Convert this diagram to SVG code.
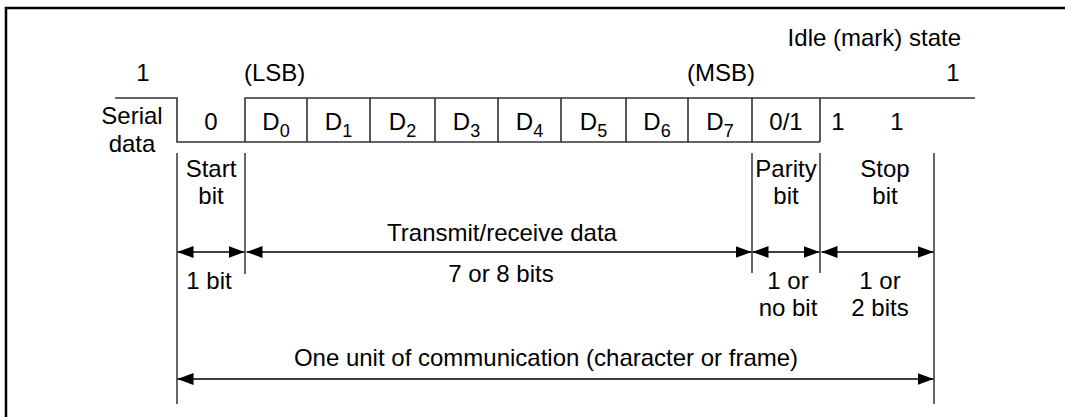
<svg xmlns="http://www.w3.org/2000/svg" width="1065" height="417" viewBox="0 0 1065 417">
<style>
text{font-family:"Liberation Sans",Arial,sans-serif;font-size:24px;fill:#000}
.m{text-anchor:middle}
.e{text-anchor:end}
.sub{font-size:18px}
.wave{fill:none;stroke:#333;stroke-width:1.6}
.guide{stroke:#000;stroke-width:1.2}
.dim{stroke:#000;stroke-width:1.5;marker-start:url(#ah);marker-end:url(#ah)}
</style>
<defs>
<marker id="ah" viewBox="0 0 16 12" refX="16" refY="6" markerWidth="16" markerHeight="12" orient="auto-start-reverse" markerUnits="userSpaceOnUse"><path d="M0,0 L16,6 L0,12 z" fill="#000"/></marker>
</defs>
<rect width="1065" height="417" fill="#fff"/>
<path d="M6,417 V8 H1066" fill="none" stroke="#000" stroke-width="2.5"/>

<g id="waveform">
<path class="wave" d="M115,98 H177 V142 H820"/>
<path class="wave" d="M975,98 H245 V142"/>
<path class="wave" d="M307,98 V142 M370,98 V142 M435,98 V142 M498,98 V142 M561,98 V142 M626,98 V142 M688,98 V142 M752,98 V142 M820,98 V142"/>
</g>

<g id="labels-top">
<text x="961" y="46" class="e">Idle (mark) state</text>
<text x="143" y="81" class="m">1</text>
<text x="244" y="81">(LSB)</text>
<text x="687" y="81">(MSB)</text>
<text x="953" y="81" class="m">1</text>
<text x="132" y="124" class="m">Serial</text>
<text x="132" y="152" class="m">data</text>
</g>

<g id="bits">
<text x="211" y="130" class="m">0</text>
<text x="276" y="130" class="m">D<tspan class="sub" dy="7">0</tspan></text>
<text x="338.5" y="130" class="m">D<tspan class="sub" dy="7">1</tspan></text>
<text x="402.5" y="130" class="m">D<tspan class="sub" dy="7">2</tspan></text>
<text x="466.5" y="130" class="m">D<tspan class="sub" dy="7">3</tspan></text>
<text x="529.5" y="130" class="m">D<tspan class="sub" dy="7">4</tspan></text>
<text x="593.5" y="130" class="m">D<tspan class="sub" dy="7">5</tspan></text>
<text x="657" y="130" class="m">D<tspan class="sub" dy="7">6</tspan></text>
<text x="720" y="130" class="m">D<tspan class="sub" dy="7">7</tspan></text>
<text x="786" y="130" class="m">0/1</text>
<text x="838" y="130" class="m">1</text>
<text x="897" y="130" class="m">1</text>
</g>

<g id="field-names">
<text x="211" y="177" class="m">Start</text>
<text x="211" y="204" class="m">bit</text>
<text x="786" y="177" class="m">Parity</text>
<text x="786" y="204" class="m">bit</text>
<text x="885" y="177" class="m">Stop</text>
<text x="885" y="204" class="m">bit</text>
</g>

<g id="connectors">
<line class="guide" x1="177" y1="153" x2="177" y2="404"/>
<line class="guide" x1="245" y1="153" x2="245" y2="274"/>
<line class="guide" x1="752" y1="153" x2="752" y2="273"/>
<line class="guide" x1="820" y1="153" x2="820" y2="273"/>
<line class="guide" x1="934" y1="153" x2="934" y2="404" stroke="#555"/>
<line class="dim" x1="177.5" y1="252" x2="244.5" y2="252"/>
<line class="dim" x1="246.5" y1="252" x2="751.5" y2="252"/>
<line class="dim" x1="752.5" y1="252" x2="819.5" y2="252"/>
<line class="dim" x1="821.5" y1="252" x2="933.5" y2="252"/>
<line class="dim" x1="177.5" y1="379" x2="933.5" y2="379"/>
</g>

<g id="dim-labels">
<text x="502" y="241" class="m">Transmit/receive data</text>
<text x="501" y="282" class="m">7 or 8 bits</text>
<text x="209" y="289" class="m">1 bit</text>
<text x="788" y="289" class="m">1 or</text>
<text x="788" y="316" class="m">no bit</text>
<text x="880" y="289" class="m">1 or</text>
<text x="880" y="316" class="m">2 bits</text>
<text x="546" y="366" class="m">One unit of communication (character or frame)</text>
</g>
</svg>
